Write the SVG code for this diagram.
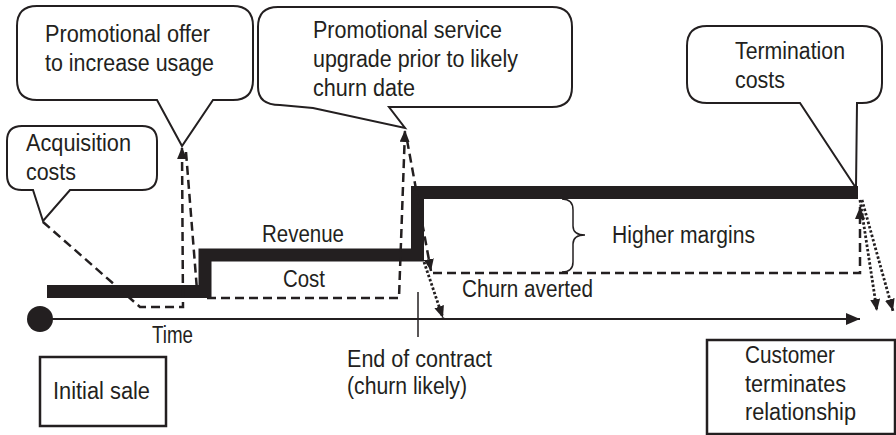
<svg xmlns="http://www.w3.org/2000/svg" width="896" height="435" viewBox="0 0 896 435">
<style>
text{font-family:"Liberation Sans",Arial,sans-serif;font-size:23px;fill:#231f20}
.co{fill:#fff;stroke:#231f20;stroke-width:2;stroke-linejoin:miter}
.box{fill:#fff;stroke:#231f20;stroke-width:2.5}
.dash{fill:none;stroke:#231f20;stroke-width:2.5;stroke-dasharray:9 5}
.dot{fill:none;stroke:#231f20;stroke-width:2.8;stroke-dasharray:2.5 2}
.ln{fill:none;stroke:#231f20}
</style>
<defs>
<marker id="ah" viewBox="0 0 12 10" refX="12" refY="5" markerWidth="12" markerHeight="10" markerUnits="userSpaceOnUse" orient="auto"><path d="M0,0 L12,5 L0,10 Z" fill="#231f20"/></marker>
<marker id="ahx" viewBox="0 0 14 12" refX="14" refY="6" markerWidth="14" markerHeight="12" markerUnits="userSpaceOnUse" orient="auto"><path d="M0,0 L14,6 L0,12 Z" fill="#231f20"/></marker>
</defs>
<g id="connectors">
<path class="ln" d="M47,291.5 H205 V255 H417.5 V192.5 H858" stroke-width="13"/>
<path class="dash" d="M43,222 L140,307 H183 L182,147" marker-end="url(#ah)"/>
<path class="dash" d="M186,152 L197,290"/>
<path class="dash" d="M207,298 H399 L405,130" marker-end="url(#ah)"/>
<path class="dash" d="M407,140 L431,271" marker-end="url(#ah)"/>
<path class="dash" d="M433,273 H860 L860,207" marker-end="url(#ah)"/>
<path class="dot" d="M424,262 L443,318" marker-end="url(#ah)"/>
<path class="dot" d="M860,200 L877,311" marker-end="url(#ah)"/>
<path class="dot" d="M862,200 L893,311" marker-end="url(#ah)"/>
<circle cx="40" cy="319" r="13" fill="#231f20"/>
<path class="ln" d="M40,319 H860" stroke-width="2" marker-end="url(#ahx)"/>
<path class="ln" d="M418,292 V337" stroke-width="1.5"/>
<path class="ln" d="M562,199 Q573,199 573,210 V226 Q573,235 585,235 Q573,235 573,244 V262 Q573,272 562,272" stroke-width="1.5"/>
</g>
<g id="promo-offer">
<path class="co" d="M37,6 H233 Q253,6 253,26 V80 Q253,100 233,100 H213 L182,146 L157,100 H37 Q17,100 17,80 V26 Q17,6 37,6 Z"/>
<text x="45" y="42" textLength="165" lengthAdjust="spacingAndGlyphs">Promotional offer</text>
<text x="45" y="71" textLength="169" lengthAdjust="spacingAndGlyphs">to increase usage</text>
</g>
<g id="acquisition">
<path class="co" d="M22,126 H142 Q157,126 157,141 V175 Q157,190 142,190 H70 L43,221 L33,190 H22 Q7,190 7,175 V141 Q7,126 22,126 Z"/>
<text x="26" y="151" textLength="105" lengthAdjust="spacingAndGlyphs">Acquisition</text>
<text x="26" y="180" textLength="50" lengthAdjust="spacingAndGlyphs">costs</text>
</g>
<g id="promo-service">
<path class="co" d="M278,7 H552 Q572,7 572,27 V87 Q572,107 552,107 H389 L405,128 L313,108 L280,105 Q258,105 258,87 V27 Q258,7 278,7 Z"/>
<text x="313" y="38" textLength="189" lengthAdjust="spacingAndGlyphs">Promotional service</text>
<text x="313" y="67" textLength="205" lengthAdjust="spacingAndGlyphs">upgrade prior to likely</text>
<text x="313" y="96" textLength="102" lengthAdjust="spacingAndGlyphs">churn date</text>
</g>
<g id="termination">
<path class="co" d="M707,26 H862 Q882,26 882,46 V83 Q882,103 862,103 H857 L856,188 L800,103 H707 Q687,103 687,83 V46 Q687,26 707,26 Z"/>
<text x="735" y="59" textLength="110" lengthAdjust="spacingAndGlyphs">Termination</text>
<text x="735" y="88" textLength="50" lengthAdjust="spacingAndGlyphs">costs</text>
</g>
<g id="labels">
<text x="262" y="242" textLength="82" lengthAdjust="spacingAndGlyphs">Revenue</text>
<text x="283" y="287" textLength="42" lengthAdjust="spacingAndGlyphs">Cost</text>
<text x="612" y="243" textLength="143" lengthAdjust="spacingAndGlyphs">Higher margins</text>
<text x="462" y="297" textLength="131" lengthAdjust="spacingAndGlyphs">Churn averted</text>
<text x="152" y="343" textLength="41" lengthAdjust="spacingAndGlyphs">Time</text>
<text x="347" y="367" textLength="145" lengthAdjust="spacingAndGlyphs">End of contract</text>
<text x="347" y="394" textLength="120" lengthAdjust="spacingAndGlyphs">(churn likely)</text>
</g>
<g id="initial-sale">
<rect class="box" x="40" y="357" width="126" height="69"/>
<text x="53" y="399" textLength="97" lengthAdjust="spacingAndGlyphs">Initial sale</text>
</g>
<g id="customer-terminates">
<rect class="box" x="707" y="340" width="188" height="94"/>
<text x="745" y="363" textLength="90" lengthAdjust="spacingAndGlyphs">Customer</text>
<text x="745" y="392" textLength="101" lengthAdjust="spacingAndGlyphs">terminates</text>
<text x="745" y="420" textLength="111" lengthAdjust="spacingAndGlyphs">relationship</text>
</g>
</svg>
